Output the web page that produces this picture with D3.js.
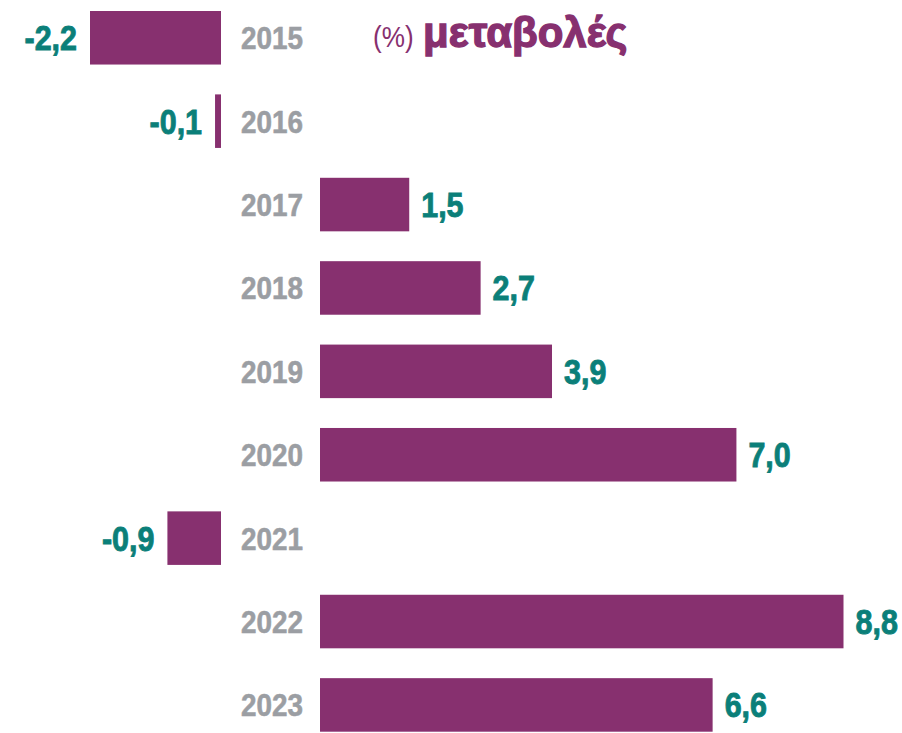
<!DOCTYPE html>
<html>
<head>
<meta charset="utf-8">
<script src="https://cdn.jsdelivr.net/npm/d3@7"></script>
<style>
  body { margin: 0; background: #fff; }
  svg { display: block; }
  text { font-family: "Liberation Sans", Arial, sans-serif; }
</style>
</head>
<body>
<div id="chart"></div>
<script>
var years = ["2015", "2016", "2017", "2018", "2019", "2020", "2021", "2022", "2023"];
var changes = [-2.2, -0.1, 1.5, 2.7, 3.9, 7.0, -0.9, 8.8, 6.6];
var titleUnit = "(%)";
var titleText = "μεταβολές";

var barColor = "#87306f", valueColor = "#0b7f79", yearColor = "#9b9ea3";
var squeeze = 0.87; // fake a condensed face

var data = years.map(function(y, i){ return {year: y, value: changes[i]}; });

var width = 902, height = 733;

var svg = d3.select("#chart").append("svg")
  .attr("width", width)
  .attr("height", height);

// negative bars grow left from 221, positive bars right from 320
var xNeg = d3.scaleLinear().domain([-2.2, 0]).range([90, 221]);
var xPos = d3.scaleLinear().domain([0, 8.8]).range([320, 843.5]);

var yScale = d3.scaleBand()
  .domain(years)
  .range([11, 731.7])
  .paddingInner(0.358)
  .paddingOuter(0);

var fmt = function(v){ return d3.format(".1f")(v).replace(".", ",").replace("\u2212", "-"); };

var rows = svg.append("g").selectAll("g")
  .data(data)
  .enter()
  .append("g");

rows.append("rect")
  .attr("x", function(d){ return d.value < 0 ? xNeg(d.value) : xPos(0); })
  .attr("y", function(d){ return yScale(d.year); })
  .attr("width", function(d){
    return d.value < 0 ? xNeg(0) - xNeg(d.value) : xPos(d.value) - xPos(0);
  })
  .attr("height", yScale.bandwidth())
  .attr("fill", barColor);

// year labels in the gap between the two origins
rows.append("text")
  .attr("transform", function(d){
    return "translate(241," + (yScale(d.year) + yScale.bandwidth()/2 + 11.5) + ") scale(" + squeeze + ",1)";
  })
  .attr("fill", yearColor)
  .attr("stroke", yearColor)
  .attr("stroke-width", 0.6)
  .style("font-size", "32px")
  .style("font-weight", "bold")
  .text(function(d){ return d.year; });

// value labels
rows.append("text")
  .attr("transform", function(d){
    var x = d.value < 0 ? xNeg(d.value) - 13 : xPos(d.value) + 12;
    return "translate(" + x + "," + (yScale(d.year) + yScale.bandwidth()/2 + 12.5) + ") scale(" + squeeze + ",1)";
  })
  .attr("text-anchor", function(d){ return d.value < 0 ? "end" : "start"; })
  .attr("fill", valueColor)
  .attr("stroke", valueColor)
  .attr("stroke-width", 0.9)
  .style("font-size", "35px")
  .style("font-weight", "bold")
  .text(function(d){ return fmt(d.value); });

svg.append("text")
  .attr("transform", "translate(373,47) scale(" + squeeze + ",1)")
  .attr("fill", barColor)
  .style("font-size", "30px")
  .text(titleUnit);

svg.append("text")
  .attr("x", 423)
  .attr("y", 46.5)
  .attr("fill", barColor)
  .attr("stroke", barColor)
  .attr("stroke-width", 1.3)
  .style("font-size", "42px")
  .style("font-weight", "bold")
  .text(titleText);
</script>
</body>
</html>
